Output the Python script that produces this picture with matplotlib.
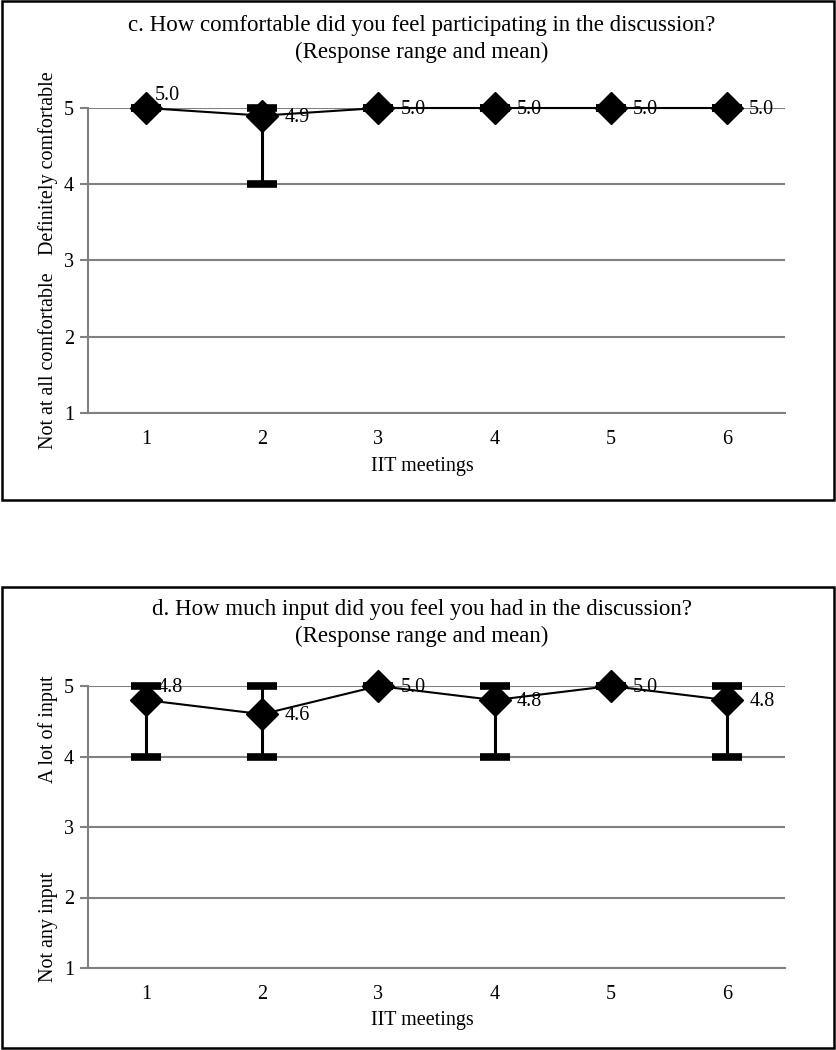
import numpy as np
import matplotlib
matplotlib.use("Agg")
import matplotlib.pyplot as plt
from matplotlib.patches import Rectangle

plt.rcParams['font.family'] = ['Liberation Serif', 'DejaVu Serif']

meetings = [1, 2, 3, 4, 5, 6]

# panel c: comfort
c_mean = [5.0, 4.9, 5.0, 5.0, 5.0, 5.0]
c_min = [5, 4, 5, 5, 5, 5]
c_max = [5, 5, 5, 5, 5, 5]

# panel d: input
d_mean = [4.8, 4.6, 5.0, 4.8, 5.0, 4.8]
d_min = [4, 4, 5, 4, 5, 4]
d_max = [5, 5, 5, 5, 5, 5]

grey = "#808080"

fig = plt.figure(figsize=(8.36, 10.5), dpi=100)

# outer boxes round each panel
for y0, h in [(1 - 500 / 1050, 499 / 1050), (1 - 1048 / 1050, 461 / 1050)]:
    fig.patches.append(Rectangle((0.002, y0), 0.996, h, transform=fig.transFigure,
                                 fill=False, edgecolor="black", linewidth=1.8))


def panel(rect, mean, lo, hi, title, ylab_hi, ylab_lo, yhi_px, ylo_px, title_px, xlab_px,
          lab_offsets):
    ax = fig.add_axes(rect)
    x = np.array(meetings)
    mean = np.array(mean)
    err = [mean - np.array(lo), np.array(hi) - mean]
    eb = ax.errorbar(x, mean, yerr=err, fmt="none", ecolor="black", elinewidth=2.2,
                     capsize=11, capthick=5.5, zorder=3)
    for art in eb.lines[1] + eb.lines[2]:
        art.set_clip_on(False)
    ax.plot(x, mean, color="black", lw=1.5, marker="D", markersize=16,
            markerfacecolor="black", zorder=4, clip_on=False)
    for xi, m, off in zip(x, mean, lab_offsets):
        ax.annotate(f"{m:.1f}", (xi, m), xytext=off, textcoords="offset points",
                    fontsize=14.5, ha="left", va="center", zorder=5)
    ax.set_xlim(0.5, 6.5)
    ax.set_ylim(1, 5)
    ax.set_yticks([1, 2, 3, 4, 5])
    ax.set_xticks(meetings)
    ax.grid(axis="y", color=grey, lw=1.5)
    ax.set_axisbelow(True)
    for s in ["top", "right"]:
        ax.spines[s].set_visible(False)
    for s in ["left", "bottom"]:
        ax.spines[s].set_color(grey)
        ax.spines[s].set_linewidth(1.5)
    ax.tick_params(axis="y", length=6, color=grey, width=1.5, labelsize=14.5, pad=4)
    ax.tick_params(axis="x", length=0, labelsize=14.5, pad=12)
    fig.text(0.505, 1 - title_px / 1050, title, ha="center", va="center",
             fontsize=16.5, linespacing=1.4)
    fig.text(0.505, 1 - xlab_px / 1050, "IIT meetings", ha="center", va="center", fontsize=14.5)
    fig.text(0.058, 1 - yhi_px / 1050, ylab_hi, rotation=90, ha="center", va="center", fontsize=14.5)
    fig.text(0.058, 1 - ylo_px / 1050, ylab_lo, rotation=90, ha="center", va="center", fontsize=14.5)
    return ax


right = (16, -1)
panel([88 / 836, 1 - 413 / 1050, 697 / 836, 305 / 1050], c_mean, c_min, c_max,
      "c. How comfortable did you feel participating in the discussion?\n(Response range and mean)",
      "Definitely comfortable", "Not at all comfortable", 163, 361, 39, 466,
      [(6, 9), right, right, right, right, right])

panel([88 / 836, 1 - 968 / 1050, 697 / 836, 282 / 1050], d_mean, d_min, d_max,
      "d. How much input did you feel you had in the discussion?\n(Response range and mean)",
      "A lot of input", "Not any input", 729, 927, 623, 1020,
      [(8, 9), right, right, right, right, right])

fig.savefig("out.png", dpi=100)
